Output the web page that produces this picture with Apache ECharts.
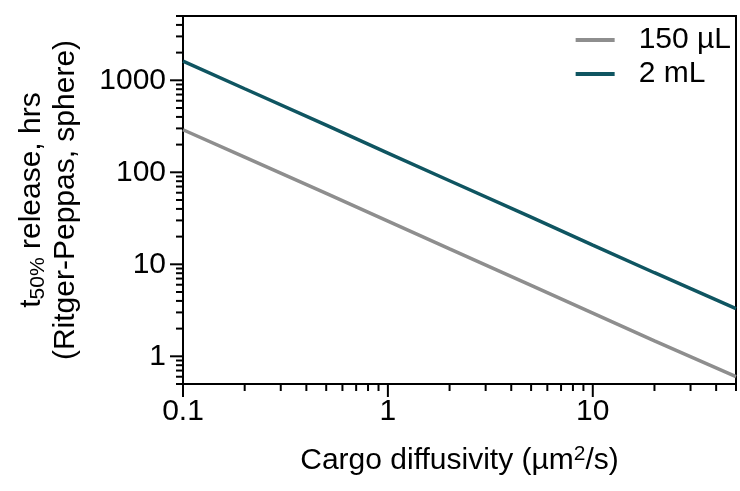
<!DOCTYPE html>
<html>
<head>
<meta charset="utf-8">
<script src="https://cdn.jsdelivr.net/npm/echarts@6/dist/echarts.min.js"></script>
<style>html,body{margin:0;padding:0;background:#fff}#c{width:740px;height:491px}</style>
</head>
<body>
<div id="c"></div>
<script>
// Cargo diffusivity (µm²/s)
const diffusivity = [0.1, 0.2, 0.5, 1, 2, 5, 10, 20, 50];
// t50% release (hrs)
const series150uL = [290, 146, 59, 29.5, 14.7, 5.9, 2.95, 1.47, 0.6];
const series2mL = [1620, 810, 325, 162, 81, 32.5, 16.2, 8.1, 3.3];
const seriesNames = ['150 µL', '2 mL'];

const xMajorTicks = [0.1, 1, 10];
const xMinorTicks = [0.2, 0.3, 0.4, 0.5, 0.6, 0.7, 0.8, 0.9, 2, 3, 4, 5, 6, 7, 8, 9, 20, 30, 40, 50];
const yMajorTicks = [1, 10, 100, 1000];
const yMinorTicks = [0.5, 0.6, 0.7, 0.8, 0.9, 2, 3, 4, 5, 6, 7, 8, 9, 20, 30, 40, 50, 60, 70, 80, 90,
  200, 300, 400, 500, 600, 700, 800, 900, 2000, 3000, 4000, 5000];

const X_MIN = 0.1, X_MAX = 50, Y_MIN = 0.5, Y_MAX = 5000;
const MAJOR_LEN = 13, MINOR_LEN = 7;
const FONT = 'Liberation Sans, Arial, sans-serif';
const FS = 30;

const xTickData = xMajorTicks.map(v => [v, Y_MIN, MAJOR_LEN, 0])
  .concat(xMinorTicks.map(v => [v, Y_MIN, MINOR_LEN, 0]));
const yTickData = yMajorTicks.map(v => [X_MIN, v, MAJOR_LEN, 1])
  .concat(yMinorTicks.map(v => [X_MIN, v, MINOR_LEN, 1]));

function isPow10(v) {
  const l = Math.log10(v);
  return Math.abs(l - Math.round(l)) < 1e-6;
}

const chart = echarts.init(document.getElementById('c'), null, {renderer: 'canvas'});
chart.setOption({
  animation: false,
  backgroundColor: '#fff',
  textStyle: {fontFamily: FONT},
  grid: {left: 183, right: 4, top: 16, bottom: 107, show: true, borderColor: '#000', borderWidth: 2, backgroundColor: 'transparent'},
  legend: {
    data: seriesNames,
    orient: 'vertical',
    right: 4,
    top: 18,
    itemWidth: 39,
    itemHeight: 4,
    itemGap: 0,
    icon: 'rect',
    textStyle: {fontFamily: FONT, fontSize: FS, color: '#000', lineHeight: 34, padding: [0, 0, 0, 19]}
  },
  xAxis: {
    type: 'log',
    logBase: 10,
    min: X_MIN,
    max: X_MAX,
    axisLine: {lineStyle: {color: '#000', width: 2}},
    axisTick: {show: false},
    splitLine: {show: false},
    axisLabel: {
      fontFamily: FONT, fontSize: FS, color: '#000', margin: 13,
      formatter: v => isPow10(v) ? String(v) : ''
    },
    name: 'Cargo diffusivity (µm{sup|2}/s)',
    nameLocation: 'middle',
    nameGap: 60,
    nameTextStyle: {
      fontFamily: FONT, fontSize: FS, color: '#000',
      rich: {sup: {fontFamily: FONT, fontSize: 21, color: '#000', verticalAlign: 'top', padding: [0, 0, 12, 0]}}
    }
  },
  yAxis: {
    type: 'log',
    logBase: 10,
    min: Y_MIN,
    max: Y_MAX,
    axisLine: {lineStyle: {color: '#000', width: 2}},
    axisTick: {show: false},
    splitLine: {show: false},
    axisLabel: {
      fontFamily: FONT, fontSize: FS, color: '#000', margin: 17,
      formatter: v => isPow10(v) ? String(v) : ''
    },
    name: '{a|t}{sub|50%}{a| release, hrs}\n{a|(Ritger-Peppas, sphere)}',
    nameLocation: 'middle',
    nameGap: 100,
    nameTextStyle: {
      fontFamily: FONT, fontSize: FS, color: '#000', align: 'center',
      rich: {
        a: {fontFamily: FONT, fontSize: FS, color: '#000', lineHeight: 34},
        sub: {fontFamily: FONT, fontSize: 21, color: '#000', lineHeight: 30, verticalAlign: 'bottom'}
      }
    }
  },
  series: [
    {
      name: seriesNames[0], type: 'line', showSymbol: false, symbol: 'none',
      data: diffusivity.map((d, i) => [d, series150uL[i]]),
      lineStyle: {color: '#8e8e8e', width: 3.5}, itemStyle: {color: '#8e8e8e'}, z: 3
    },
    {
      name: seriesNames[1], type: 'line', showSymbol: false, symbol: 'none',
      data: diffusivity.map((d, i) => [d, series2mL[i]]),
      lineStyle: {color: '#0f5561', width: 3.5}, itemStyle: {color: '#0f5561'}, z: 3
    },
    {
      name: 'ticks', type: 'custom', silent: true, clip: false, z: 5,
      data: xTickData.concat(yTickData),
      encode: {x: 0, y: 1},
      renderItem: function (params, api) {
        const p = api.coord([api.value(0), api.value(1)]);
        const len = api.value(2);
        const dir = api.value(3);
        const shape = dir === 0
          ? {x1: p[0], y1: p[1], x2: p[0], y2: p[1] + len}
          : {x1: p[0], y1: p[1], x2: p[0] - len, y2: p[1]};
        return {type: 'line', shape: shape, style: {stroke: '#000', lineWidth: 2}};
      }
    }
  ]
});
</script>
</body>
</html>
